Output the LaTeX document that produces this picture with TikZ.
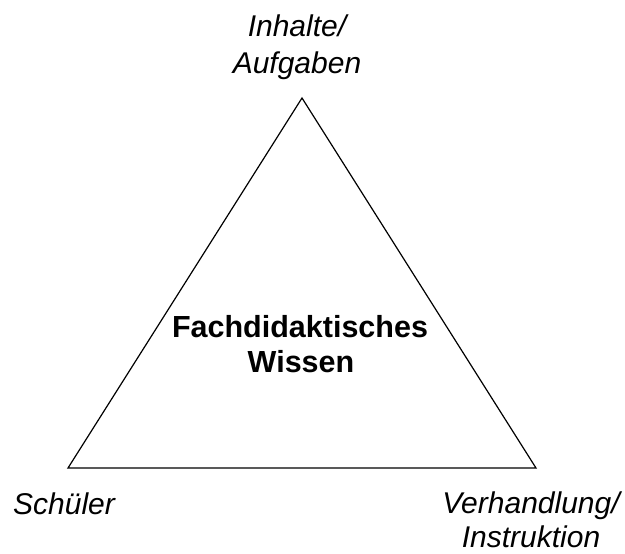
\documentclass[tikz,border=0pt]{standalone}
\usepackage{fontspec}
\setmainfont{Liberation Sans}
\begin{document}
\begin{tikzpicture}[x=1pt,y=-1pt,
  lbl/.style={font=\fontsize{30}{36}\selectfont\itshape, inner sep=0pt, anchor=base},
  ctr/.style={font=\fontsize{30.5}{36}\selectfont\bfseries, inner sep=0pt, anchor=base},
  edge/.style={draw=black, line width=1.2pt, line join=miter}]
\useasboundingbox (0,0) rectangle (625,554);
\coordinate (T) at (302,98);
\coordinate (L) at (68,468);
\coordinate (R) at (536,468);
\draw[edge] (T) -- (L) -- (R) -- cycle;
\node[lbl] (t1) at (297,36) {Inhalte/};
\node[lbl] (t2) at (297,73) {Aufgaben};
\node[ctr] (c1) at (300,337) {Fachdidaktisches};
\node[ctr] (c2) at (301,372) {Wissen};
\node[lbl] (s) at (64,514) {Schüler};
\node[lbl] (v1) at (531,513) {Verhandlung/};
\node[lbl] (v2) at (531,547) {Instruktion};
\end{tikzpicture}
\end{document}
